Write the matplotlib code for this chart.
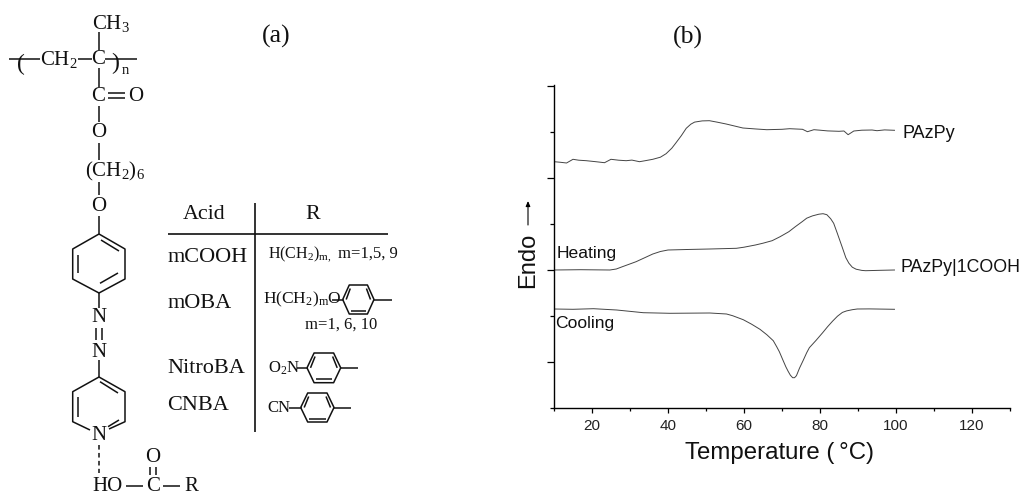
import matplotlib
matplotlib.use("Agg")
import matplotlib.pyplot as plt
from matplotlib.ticker import FixedLocator

plt.rcParams['mathtext.fontset'] = 'custom'
plt.rcParams['mathtext.rm'] = 'Liberation Serif'
plt.rcParams['mathtext.default'] = 'rm'

# DSC traces: temperature (deg C), signal (arbitrary units)
t_pazpy = [10, 11.5, 13.3, 15, 16.5, 18.5, 21, 23.3, 25, 27, 29, 30.5, 32.5, 34, 36, 38, 39.5, 41, 42, 43.5, 44.8, 46,
           47, 49, 50.9, 53, 55.3, 59.7, 63.2, 66, 70, 72, 75.4, 76.7, 78.4, 80, 82, 85, 86.3, 87.4, 88.9, 91, 93.7, 95, 97, 99.6]
s_pazpy = [246, 245.5, 244.7, 248.4, 247.5, 247, 246, 245, 248.4, 247.5, 247, 247.6, 246, 247, 248.4, 250.5, 254, 259.5, 264.4, 272, 279.4, 283.5,
           285.6, 286.8, 287, 285.5, 283.7, 279.7, 278.7, 278, 278.4, 279, 278.4, 276, 278, 277.5, 276.8, 276.4, 276.7, 273, 276.7, 277.5, 277.7, 277, 277.8, 277.4]
t_heat = [10, 17, 24.7, 26.4, 28, 31.6, 36, 38, 40, 45, 51, 58, 60, 63, 65, 67.4, 69.5, 71.8, 73.5, 75.3, 76.5, 78, 79.7, 80.8, 81.8, 82.8, 83.6, 84.5, 85.8, 86.8, 87.6, 88.5, 89.5, 91, 92, 96, 99.6]
s_heat = [137.7, 138, 137.7, 138.7, 141, 146, 153.7, 156.2, 157.7, 158.2, 158.7, 159.4, 160.5, 162.7, 164.5, 167, 171, 176, 181, 186, 189.5, 191.8, 193.5, 194, 193, 189, 184.4, 175, 161, 150, 144.5, 140.5, 138.5, 137.3, 137, 137.4, 137.7]
t_cool = [10, 15, 20.4, 26.5, 33.5, 40.5, 51, 55.4, 57, 59.8, 62, 64.2, 66, 67.7, 68.6, 69.3, 70.2, 71, 71.6, 72.2, 72.8, 73.3, 73.8, 74.6, 75.6, 76.5, 77.2, 79, 80.7, 82, 83.3, 84.6, 85.9, 87, 88.5, 89.8, 93, 99.6]
s_cool = [98.7, 98.4, 99, 97.7, 95, 94.4, 94.7, 93.7, 92, 88, 83.5, 78.4, 73, 67, 61, 56, 48, 41, 36.5, 32.5, 30, 30, 32, 39.5, 47.5, 55, 60, 67.5, 75, 81, 86.5, 91.5, 95.3, 96.8, 98, 98.7, 98.8, 98.4]

x_major = [20, 40, 60, 80, 100, 120]
x_minor = [10, 30, 50, 70, 90, 110, 130]
y_major = [46, 138, 230, 322]
y_minor = [0, 92, 184, 276]

W, H = 1023, 494
fig = plt.figure(figsize=(W / 100, H / 100), dpi=100, facecolor='white')
SANS = 'Liberation Sans'
SERIF = 'Liberation Serif'

# ---------- panel (b) ----------
ax = fig.add_axes([554 / W, (H - 407.7) / H, 456 / W, 322.4 / H])
ax.set_xlim(10, 130)
ax.set_ylim(0, 322.4)
for s in ('top', 'right'):
    ax.spines[s].set_visible(False)
for s in ('left', 'bottom'):
    ax.spines[s].set_linewidth(1.0)
ax.xaxis.set_major_locator(FixedLocator(x_major))
ax.xaxis.set_minor_locator(FixedLocator(x_minor))
ax.yaxis.set_major_locator(FixedLocator(y_major))
ax.yaxis.set_minor_locator(FixedLocator(y_minor))
ax.tick_params(axis='x', which='major', length=3.8, width=0.9, pad=4)
ax.tick_params(axis='x', which='minor', length=2.4, width=0.9)
ax.tick_params(axis='y', which='major', length=5.2, width=0.9)
ax.tick_params(axis='y', which='minor', length=3.0, width=0.9)
ax.set_yticklabels([])
ax.set_xticklabels([str(v) for v in x_major], fontfamily=SANS, fontsize=11, color='#222222')
for t, s in ((t_pazpy, s_pazpy), (t_heat, s_heat), (t_cool, s_cool)):
    ax.plot(t, s, color='#444444', lw=0.7)

# ---------- overlay in pixel coordinates ----------
ov = fig.add_axes([0, 0, 1, 1], facecolor='none')
ov.set_xlim(0, W)
ov.set_ylim(H, 0)
ov.axis('off')


def txt(x, y, s, size=15, ha='center', fam=SERIF, **kw):
    ov.text(x, y, s, fontsize=size, ha=ha, va='center', family=fam, color='#111111', **kw)


def bond(*pts, lw=1.1, **kw):
    ov.plot([p[0] for p in pts], [p[1] for p in pts], color='#111111', lw=lw, solid_capstyle='butt', **kw)


txt(276, 36, '(a)', 18.5)
txt(688, 37, '(b)', 18.5)

txt(685, 453, 'Temperature (\u2009\u00b0C)', 17.3, ha='left', fam=SANS)
txt(528, 260.5, 'Endo', 17, fam=SANS, rotation=90)
ov.annotate('', xy=(528, 201), xytext=(528, 225),
            arrowprops=dict(arrowstyle='-|>,head_width=0.13,head_length=0.3', color='black', lw=0.8,
                            shrinkA=0, shrinkB=0))
txt(557, 253, 'Heating', 12.6, ha='left', fam=SANS)
txt(555.5, 323, 'Cooling', 12.6, ha='left', fam=SANS)
txt(902, 133, 'PAzPy', 13, ha='left', fam=SANS)
txt(901, 267, 'PAzPy|1COOH', 12.8, ha='left', fam=SANS)

# polymer backbone
txt(92, 23, 'CH$_3$', ha='left')
bond((99, 32), (99, 50))
bond((9, 59), (40, 59))
txt(40, 59, 'CH$_2$', ha='left')
bond((78, 59), (92, 59))
txt(98.5, 59, 'C')
bond((105, 59), (137, 59))
txt(21, 64, '(', 17, fontweight='light')
txt(115.5, 63, ')', 17, fontweight='light')
txt(125.5, 70, 'n', 10.5)
bond((99, 68), (99, 87))
txt(98.5, 96, 'C')
bond((108, 92.7), (125, 92.7))
bond((108, 98.3), (125, 98.3))
txt(136, 96, 'O')
bond((99, 106), (99, 122))
txt(99, 132.5, 'O')
bond((99, 143), (99, 160))
txt(85, 171, '(CH$_2$)$_6$', ha='left')
bond((99, 182), (99, 195))
txt(99, 206, 'O')
bond((99, 216), (99, 234))
# benzene ring
bond((99, 234), (72.7, 249), (72.7, 279), (99, 293), (125, 279), (125, 249), (99, 234))
bond((78, 255), (78, 273))
bond((101, 240), (119, 251))
bond((100, 283.3), (118, 273))
bond((99, 293), (99, 308))
txt(99, 317.5, 'N')
bond((96, 328), (96, 340))
bond((101.7, 328), (101.7, 340))
txt(99, 352, 'N')
bond((99, 360), (99, 377))
# pyridine ring
bond((90, 430), (72.7, 421.7), (72.7, 391.7), (99, 377), (125, 391.7), (125, 421.7), (109, 429))
bond((78, 396.7), (78, 416.7))
bond((100, 381.7), (118, 393))
bond((108, 426.7), (119, 420))
txt(99, 435, 'N')
ov.plot([99, 99], [445, 473], color='#111111', lw=1.1, ls=(0, (3, 2.2)))
txt(92.5, 486, 'HO', ha='left')
bond((126, 486), (143, 486))
txt(153, 486, 'C')
bond((163, 486), (180, 486))
txt(191, 486, 'R')
txt(153, 457, 'O')
bond((150.3, 467), (150.3, 475))
bond((156, 467), (156, 475))

# table
bond((255, 203), (255, 431.7), lw=1.2)
bond((168, 234.3), (388, 234.3), lw=1.2)
txt(204, 214, 'Acid', 15.8)
txt(312.7, 214, 'R', 15.8)
txt(168, 257, 'mCOOH', 16, ha='left')
txt(168, 303, 'mOBA', 16, ha='left')
txt(167, 368, 'NitroBA', 16, ha='left')
txt(167, 405, 'CNBA', 16, ha='left')
txt(268, 254, 'H(CH$_2$)$_{\\mathrm{m,}}$', 11.5, ha='left')
txt(338, 254, 'm=1,5, 9', 12, ha='left')
txt(263, 299, 'H(CH$_2$)$_\\mathrm{m}$O', 12.5, ha='left')
txt(305, 325, 'm=1, 6, 10', 12, ha='left')
txt(268, 368, 'O$_2$N', 12, ha='left')
txt(267, 408, 'CN', 12, ha='left')


def para_ring(xl, xr, yt, yb, bond_from, tail):
    ym = (yt + yb) / 2
    f1 = xl + (xr - xl) * 0.21
    f2 = xl + (xr - xl) * 0.79
    bond((xl, ym), (f1, yt), (f2, yt), (xr, ym), (f2, yb), (f1, yb), (xl, ym))
    bond((f1 + 1.5, yb - 3.5), (f2 - 1.5, yb - 3.5))
    bond((f2 - 1, yt + 3.5), (xr - 3.5, ym))
    bond((xl + 3.5, ym), (f1 + 1, yt + 3.5))
    bond((bond_from, ym), (xl, ym))
    bond((xr, ym), (tail, ym))


para_ring(342.7, 374, 285, 314, 332, 391.7)
para_ring(307, 340.7, 353, 382.7, 297, 358)
para_ring(300.7, 334, 393, 422, 289, 350.7)

fig.savefig('out.png', dpi=100, facecolor='white')
